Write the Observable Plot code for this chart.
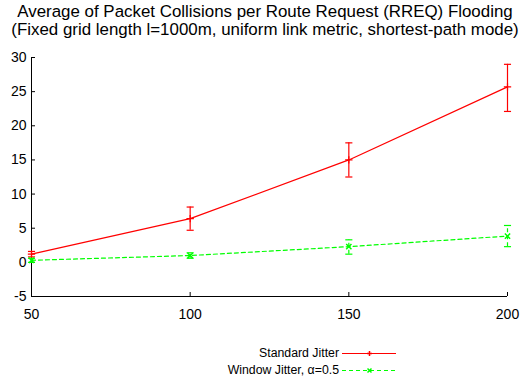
<!DOCTYPE html>
<html>
<head>
<meta charset="utf-8">
<script src="https://cdn.jsdelivr.net/npm/d3@7"></script>
<script src="https://cdn.jsdelivr.net/npm/@observablehq/plot@0.6"></script>
<style>
  html, body { margin: 0; padding: 0; background: #fff; }
  #wrap { position: relative; width: 530px; height: 377px; font-family: "Liberation Sans", Arial, Helvetica, sans-serif; }
  #title { position: absolute; left: 0; top: 3px; width: 530px; text-align: center; font-size: 16.9px; line-height: 18px; color: #000; white-space: nowrap; }
  #legend { position: absolute; left: 0; top: 347.5px; width: 530px; font-size: 12.3px; color: #000; }
  .row { position: absolute; right: 191px; height: 10px; line-height: 10px; white-space: nowrap; }
  .lg { position: absolute; left: 340px; }
</style>
</head>
<body>
<div id="wrap">
  <div id="chart" style="position:absolute;left:0;top:0"></div>
  <div id="title">Average of Packet Collisions per Route Request (RREQ) Flooding<br>(Fixed grid length l=1000m, uniform link metric, shortest-path mode)</div>
  <div id="legend"></div>
</div>
<script>
const nodes = [50, 100, 150, 200];
const standardMean = [1.2, 6.4, 15.0, 25.7];
const standardLow  = [0.8, 4.7, 12.5, 22.1];
const standardHigh = [1.6, 8.1, 17.5, 29.0];
const windowMean = [0.3, 1.0, 2.3, 3.85];
const windowLow  = [0.0, 0.6, 1.2, 2.3];
const windowHigh = [0.6, 1.4, 3.3, 5.4];
const xTicks = [50, 100, 150, 200];
const yTicks = [-5, 0, 5, 10, 15, 20, 25, 30];
const seriesNames = ["Standard Jitter", "Window Jitter, \u03b1=0.5"];
const colors = ["#ff0000", "#00ff00"];

const std = nodes.map((n, i) => ({x: n, y: standardMean[i], lo: standardLow[i], hi: standardHigh[i]}));
const win = nodes.map((n, i) => ({x: n, y: windowMean[i], lo: windowLow[i], hi: windowHigh[i]}));

const cap = { draw(ctx, size) { const r = Math.sqrt(size) * 0.8; ctx.moveTo(-r, 0); ctx.lineTo(r, 0); } };

const chart = Plot.plot({
  width: 530,
  height: 377,
  marginTop: 57,
  marginBottom: 81,
  marginLeft: 31,
  marginRight: 23,
  style: { fontFamily: "Liberation Sans, Arial, sans-serif", fontSize: "14px", background: "#fff", color: "#000" },
  x: { domain: [50, 200], ticks: xTicks },
  y: { domain: [-5, 30], ticks: yTicks },
  marks: [
    Plot.axisY({ ticks: yTicks, tickSize: -4, tickPadding: 9, label: null, tickFormat: d => String(d), fontSize: 14 }),
    Plot.axisX({ ticks: xTicks, tickSize: -4, tickPadding: 17, label: null, tickFormat: d => String(d), fontSize: 14 }),
    Plot.ruleX([50], { stroke: "#000", strokeWidth: 1 }),
    Plot.ruleY([-5], { stroke: "#000", strokeWidth: 1 }),
    // Standard Jitter
    Plot.line(std, { x: "x", y: "y", stroke: colors[0], strokeWidth: 1.2 }),
    Plot.ruleX(std, { x: "x", y1: "lo", y2: "hi", stroke: colors[0], strokeWidth: 1.2 }),
    Plot.dot(std, { x: "x", y: "lo", symbol: cap, r: 2.5, stroke: colors[0], strokeWidth: 1.2 }),
    Plot.dot(std, { x: "x", y: "hi", symbol: cap, r: 2.5, stroke: colors[0], strokeWidth: 1.2 }),
    Plot.dot(std, { x: "x", y: "y", symbol: "plus", r: 2.5, stroke: colors[0], strokeWidth: 1.2 }),
    // Window Jitter
    Plot.line(win, { x: "x", y: "y", stroke: colors[1], strokeWidth: 1.2, strokeDasharray: "4,3" }),
    Plot.ruleX(win, { x: "x", y1: "lo", y2: "hi", stroke: colors[1], strokeWidth: 1.2, strokeDasharray: "4,3" }),
    Plot.dot(win, { x: "x", y: "lo", symbol: cap, r: 2.5, stroke: colors[1], strokeWidth: 1.2 }),
    Plot.dot(win, { x: "x", y: "hi", symbol: cap, r: 2.5, stroke: colors[1], strokeWidth: 1.2 }),
    Plot.dot(win, { x: "x", y: "y", symbol: "times", r: 2.5, stroke: colors[1], strokeWidth: 1.5 })
  ]
});
document.getElementById("chart").appendChild(chart);

const legend = document.getElementById("legend");
seriesNames.forEach((name, i) => {
  const top = i * 17;
  const row = document.createElement("div");
  row.className = "row";
  row.style.top = top + "px";
  row.textContent = name;
  legend.appendChild(row);
  const ns = "http://www.w3.org/2000/svg";
  const svg = document.createElementNS(ns, "svg");
  svg.setAttribute("width", 60);
  svg.setAttribute("height", 10);
  svg.setAttribute("class", "lg");
  svg.style.top = top + "px";
  const line = document.createElementNS(ns, "line");
  line.setAttribute("x1", 2); line.setAttribute("x2", 56);
  line.setAttribute("y1", 5.5); line.setAttribute("y2", 5.5);
  line.setAttribute("stroke", colors[i]);
  line.setAttribute("stroke-width", 1.2);
  if (i === 1) line.setAttribute("stroke-dasharray", "4,3");
  svg.appendChild(line);
  const m = document.createElementNS(ns, "path");
  m.setAttribute("d", i === 0 ? "M29.5,3v5M27,5.5h5" : "M27.5,3.5l4,4M31.5,3.5l-4,4");
  m.setAttribute("stroke", colors[i]);
  m.setAttribute("stroke-width", 1.5);
  svg.appendChild(m);
  legend.appendChild(svg);
});
</script>
</body>
</html>
